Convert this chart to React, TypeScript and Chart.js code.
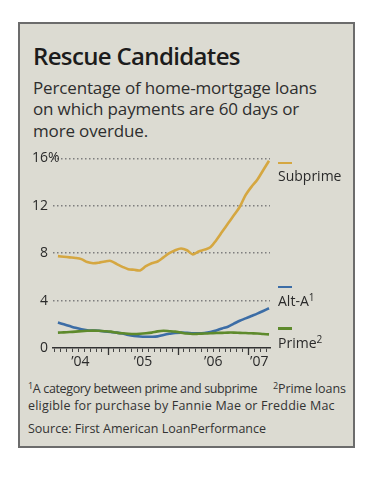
import React, { useEffect, useRef } from "react";
import { Chart, registerables } from "chart.js";
Chart.register(...registerables);

const MONTHS = [
  "2004-04", "2004-05", "2004-06", "2004-07", "2004-08", "2004-09", "2004-10", "2004-11", "2004-12",
  "2005-01", "2005-02", "2005-03", "2005-04", "2005-05", "2005-06", "2005-07", "2005-08", "2005-09", "2005-10", "2005-11", "2005-12",
  "2006-01", "2006-02", "2006-03", "2006-04", "2006-05", "2006-06", "2006-07", "2006-08", "2006-09", "2006-10", "2006-11", "2006-12",
  "2007-01", "2007-02", "2007-03", "2007-04",
];

const SUBPRIME = [7.75, 7.7, 7.65, 7.6, 7.5, 7.25, 7.15, 7.2, 7.3, 7.35, 7.1, 6.85, 6.65, 6.6, 6.55, 6.9, 7.15, 7.3, 7.65, 8.0, 8.25, 8.4, 8.25, 7.9, 8.15, 8.3, 8.5, 9.1, 9.8, 10.5, 11.2, 11.9, 12.9, 13.6, 14.2, 15.0, 15.8];
const ALT_A = [2.15, 2.0, 1.85, 1.7, 1.58, 1.5, 1.47, 1.45, 1.4, 1.35, 1.3, 1.22, 1.1, 1.02, 0.97, 0.95, 0.95, 0.98, 1.1, 1.2, 1.28, 1.3, 1.28, 1.25, 1.24, 1.27, 1.35, 1.48, 1.65, 1.8, 2.05, 2.3, 2.5, 2.7, 2.9, 3.12, 3.35];
const PRIME = [1.3, 1.32, 1.35, 1.38, 1.42, 1.45, 1.47, 1.45, 1.42, 1.38, 1.3, 1.24, 1.2, 1.18, 1.2, 1.24, 1.3, 1.4, 1.45, 1.42, 1.38, 1.3, 1.22, 1.18, 1.2, 1.22, 1.24, 1.27, 1.28, 1.3, 1.3, 1.28, 1.26, 1.24, 1.22, 1.18, 1.15];

const Y_TICKS = [0, 4, 8, 12, 16];
const YEARS = [2004, 2005, 2006, 2007];
const YEAR_LABELS = ["\u201904", "\u201905", "\u201906", "\u201907"];

const GOLD = "#d5a741";
const BLUE = "#3c6da6";
const GREEN = "#5e8a2c";
const TEXT = "#2a2a2a";
const FONT = "'Open Sans', 'Noto Sans', sans-serif";

const toX = (m: string) => {
  const [y, mo] = m.split("-").map(Number);
  return y + (mo - 0.5) / 12;
};

export default function App() {
  const ref = useRef<HTMLCanvasElement | null>(null);

  useEffect(() => {
    if (!ref.current) return;
    const xs = MONTHS.map(toX);
    const xMin = xs[0] - 0.07;
    const xMax = xs[xs.length - 1] + 0.014;
    const pts = (arr: number[]) => arr.map((v, i) => ({ x: xs[i], y: v }));

    const extras = {
      id: "extras",
      afterDraw(chart: any) {
        const { ctx, chartArea, scales } = chart;
        const x = scales.x;
        const y = scales.y;
        ctx.save();
        ctx.strokeStyle = "#333";
        ctx.lineWidth = 1.3;
        YEARS.forEach((yr) => {
          if (yr <= xMin || yr >= xMax) return;
          const px = Math.round(x.getPixelForValue(yr)) + 0.5;
          ctx.beginPath();
          ctx.moveTo(px, chartArea.bottom);
          ctx.lineTo(px, chartArea.bottom + 7);
          ctx.stroke();
        });
        ctx.fillStyle = TEXT;
        ctx.font = `14px ${FONT}`;
        ctx.textAlign = "left";
        ctx.textBaseline = "middle";
        ctx.fillText("%", y.right - 5, y.getPixelForValue(16));
        ctx.restore();
      },
    };

    const chart = new Chart(ref.current, {
      type: "line",
      data: {
        datasets: [
          { label: "Subprime", data: pts(SUBPRIME), borderColor: GOLD, borderWidth: 2.6, pointRadius: 0, tension: 0.3, order: 2 },
          { label: "Alt-A", data: pts(ALT_A), borderColor: BLUE, borderWidth: 2.6, pointRadius: 0, tension: 0.3, order: 1 },
          { label: "Prime", data: pts(PRIME), borderColor: GREEN, borderWidth: 2.6, pointRadius: 0, tension: 0.3, order: 0 },
        ],
      },
      options: {
        animation: false,
        responsive: false,
        events: [],
        layout: { padding: { left: 0, right: 80, top: 13, bottom: 0 } },
        plugins: { legend: { display: false }, tooltip: { enabled: false } },
        scales: {
          x: {
            type: "linear",
            min: xMin,
            max: xMax,
            afterFit: (s: any) => { s.height = 29; },
            afterBuildTicks: (s: any) => {
              const ticks: any[] = [];
              for (let yr = 2004; yr <= 2007; yr++) {
                for (let m = 0; m < 12; m++) {
                  const v = yr + m / 12;
                  if (v > xMin && v < xMax && m !== 0) ticks.push({ value: v, kind: "minor" });
                }
              }
              YEARS.forEach((yr, i) => {
                const a = Math.max(yr, xMin);
                const b = Math.min(yr + 1, xMax);
                ticks.push({ value: (a + b) / 2, kind: "label", text: YEAR_LABELS[i] });
              });
              ticks.sort((p, q) => p.value - q.value);
              s.ticks = ticks;
            },
            ticks: {
              autoSkip: false,
              maxRotation: 0,
              padding: 2,
              color: TEXT,
              font: { family: FONT, size: 14 },
              callback: function (this: any, _v: any, i: number, ticks: any[]) {
                const t = ticks[i];
                return t && t.kind === "label" ? t.text : "";
              },
            },
            grid: {
              drawOnChartArea: false,
              drawTicks: true,
              tickLength: 4,
              tickWidth: 1,
              tickColor: (c: any) => (c.tick && c.tick.kind === "label" ? "rgba(0,0,0,0)" : "#444"),
            },
            border: { display: true, color: "#333", width: 1.6 },
          },
          y: {
            min: 0,
            max: 16,
            afterFit: (s: any) => { s.width = 31; },
            afterBuildTicks: (s: any) => { s.ticks = Y_TICKS.map((v) => ({ value: v })); },
            ticks: {
              padding: 5,
              color: TEXT,
              font: { family: FONT, size: 14 },
              callback: (v: any) => String(v),
            },
            grid: {
              drawTicks: false,
              color: (c: any) => (c.tick && c.tick.value === 0 ? "rgba(0,0,0,0)" : "#7e7e7e"),
              lineWidth: 1.5,
            },
            border: { display: false, dash: [1.5, 2.5] },
          },
        },
      } as any,
      plugins: [extras],
    });
    return () => chart.destroy();
  }, []);

  const abs = (l: number, t: number, extra: React.CSSProperties = {}): React.CSSProperties => ({
    position: "absolute", left: l, top: t, whiteSpace: "nowrap", ...extra,
  });
  const sup: React.CSSProperties = { fontSize: "0.72em", verticalAlign: "0.45em", lineHeight: 0 };
  const dash = (l: number, t: number, c: string): React.CSSProperties => ({
    position: "absolute", left: l, top: t, width: 14, height: 2.6, background: c,
  });
  const legendFont: React.CSSProperties = { fontFamily: FONT, fontSize: 14, lineHeight: "16px", color: TEXT };
  const noteFont: React.CSSProperties = { fontFamily: FONT, fontSize: 12.5, lineHeight: "17px", color: "#333" };

  return (
    <div style={{ position: "absolute", left: 0, top: 0, width: 381, height: 482, background: "#fff" }}>
      <div style={{ position: "absolute", left: 18, top: 22, width: 337, height: 426, boxSizing: "border-box", border: "2px solid #6c6c6c", background: "#dcdbd2" }} />
      <div style={abs(33, 43.7, { fontFamily: FONT, fontWeight: 600, fontSize: 24, lineHeight: "24px", color: "#1c1c1c", letterSpacing: -0.65 })}>
        Rescue Candidates
      </div>
      <div style={abs(33, 76.6, { fontFamily: FONT, fontSize: 17, lineHeight: "21.5px", color: "#2e2e2e", letterSpacing: -0.15 })}>
        Percentage of home-mortgage loans<br />
        on which payments are 60 days or<br />
        more overdue.
      </div>
      <canvas ref={ref} width={328} height={232} style={{ position: "absolute", left: 22, top: 145, width: 328, height: 232 }} />
      <div style={dash(278, 161.5, GOLD)} />
      <div style={abs(278, 168.3, legendFont)}>Subprime</div>
      <div style={dash(278, 285.5, BLUE)} />
      <div style={abs(278, 293.3, legendFont)}>Alt-A<span style={sup}>1</span></div>
      <div style={dash(278, 327, GREEN)} />
      <div style={abs(278, 334.6, legendFont)}>Prime<span style={sup}>2</span></div>
      <div style={abs(28, 379.6, { ...noteFont, letterSpacing: -0.35 })}><span style={sup}>1</span>A category between prime and subprime</div>
      <div style={abs(273, 379.6, { ...noteFont, letterSpacing: -0.1 })}><span style={sup}>2</span>Prime loans</div>
      <div style={abs(28, 396.6, { ...noteFont, letterSpacing: 0.2 })}>eligible for purchase by Fannie Mae or Freddie Mac</div>
      <div style={abs(28, 419.6, { ...noteFont, letterSpacing: 0 })}>Source: First American LoanPerformance</div>
    </div>
  );
}
